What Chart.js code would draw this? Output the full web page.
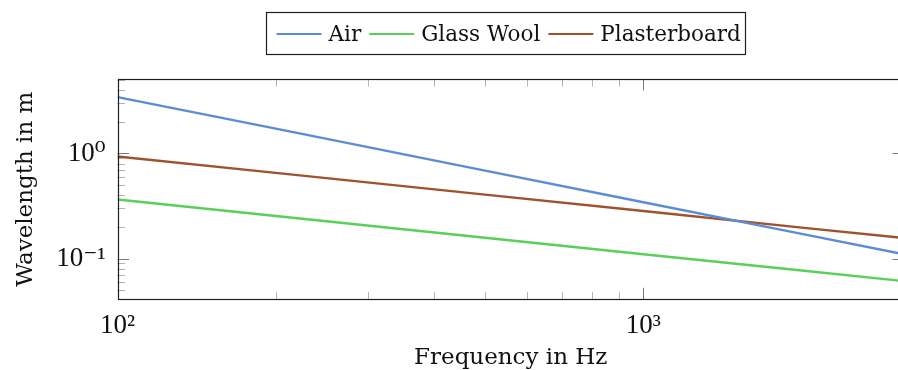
<!DOCTYPE html>
<html>
<head>
<meta charset="utf-8">
<script src="https://cdn.jsdelivr.net/npm/chart.js@4"></script>
<style>
  html, body { margin: 0; padding: 0; background: #fff; overflow: hidden; }
  #wrap { position: relative; width: 906px; height: 370px; }
</style>
</head>
<body>
<div id="wrap"><canvas id="myChart"></canvas></div>
<script>
// data (log-log)
var frequencies = [100, 200, 500, 1000, 2000, 3130];
var airWavelength = [3.43, 1.72, 0.686, 0.343, 0.172, 0.110];
var glassWoolWavelength = [0.365, 0.254, 0.158, 0.110, 0.077, 0.061];
var plasterboardWavelength = [0.936, 0.653, 0.406, 0.283, 0.197, 0.157];

var seriesNames = ['Air', 'Glass Wool', 'Plasterboard'];

// axis ticks
var xTickValues = [100, 1000];
var xTickLabels = ['10\u00B2', '10\u00B3'];
var xMinorTicks = [200, 300, 400, 500, 600, 700, 800, 900];
var yTickValues = [0.1, 1];
var yTickLabels = ['10\u207B\u00B9', '10\u2070'];
var yMinorTicks = [0.05, 0.06, 0.07, 0.08, 0.09, 0.2, 0.3, 0.4, 0.5, 0.6, 0.7, 0.8, 0.9, 2, 3, 4, 5];

var colors = ['#5b8cd7', '#58d158', '#a0522d'];
var serif = '"DejaVu Serif", serif';
var tickFont = '"Liberation Serif", "DejaVu Serif", serif';

function points(ys) {
    return frequencies.map(function (f, i) { return { x: f, y: ys[i] }; });
}

// frame, inner tick marks (pgfplots style) and the boxed legend
var framePlugin = {
    id: 'frame',
    afterDraw: function (chart) {
        var c = chart.ctx, a = chart.chartArea;
        var xs = chart.scales.x, ys = chart.scales.y;
        var major = 11.5, minor = 7.5;
        c.save();
        c.lineWidth = 1;

        // minor ticks
        c.strokeStyle = '#b4b4b4';
        c.beginPath();
        xMinorTicks.forEach(function (v) {
            var px = Math.round(xs.getPixelForValue(v)) + 0.5;
            c.moveTo(px, a.bottom); c.lineTo(px, a.bottom - minor);
            c.moveTo(px, a.top); c.lineTo(px, a.top + minor);
        });
        yMinorTicks.forEach(function (v) {
            var py = Math.round(ys.getPixelForValue(v)) + 0.5;
            c.moveTo(a.left, py); c.lineTo(a.left + minor, py);
        });
        c.stroke();

        // major ticks
        c.strokeStyle = '#7a7a7a';
        c.beginPath();
        xTickValues.forEach(function (v) {
            var px = Math.round(xs.getPixelForValue(v)) + 0.5;
            c.moveTo(px, a.bottom); c.lineTo(px, a.bottom - major);
            c.moveTo(px, a.top); c.lineTo(px, a.top + major);
        });
        yTickValues.forEach(function (v) {
            var py = Math.round(ys.getPixelForValue(v)) + 0.5;
            c.moveTo(a.left, py); c.lineTo(a.left + major, py);
            c.moveTo(a.right, py); c.lineTo(a.right - major, py);
        });
        c.stroke();

        // axis box
        c.strokeStyle = '#1e1e1e';
        c.lineWidth = 1.2;
        c.strokeRect(Math.round(a.left) + 0.5, Math.round(a.top) + 0.5,
            Math.round(a.right - a.left), Math.round(a.bottom - a.top));

        // legend
        c.font = '21.5px ' + serif;
        c.textBaseline = 'alphabetic';
        var lineLen = 45, gapText = 7, gapItem = 8, padL = 10, padR = 5;
        var ds = chart.data.datasets;
        var total = padL + padR;
        ds.forEach(function (d, i) {
            total += lineLen + gapText + c.measureText(d.label).width;
            if (i < ds.length - 1) total += gapItem;
        });
        var boxTop = 12.5, boxH = 42;
        var left = Math.round((a.left + a.right) / 2 - total / 2 - 5) + 0.5;
        c.strokeStyle = '#1e1e1e';
        c.lineWidth = 1.2;
        c.strokeRect(left, boxTop, Math.round(total), boxH);
        var x = left + padL;
        ds.forEach(function (d) {
            c.strokeStyle = d.borderColor;
            c.lineWidth = 1.8;
            c.beginPath();
            c.moveTo(x, 34); c.lineTo(x + lineLen, 34);
            c.stroke();
            x += lineLen + gapText;
            c.fillStyle = '#111';
            c.fillText(d.label, x, 40.5);
            x += c.measureText(d.label).width + gapItem;
        });
        c.restore();
    }
};

var ctx = document.getElementById('myChart').getContext('2d');
var myChart = new Chart(ctx, {
    type: 'line',
    data: {
        datasets: [
            { label: seriesNames[0], data: points(airWavelength), borderColor: colors[0] },
            { label: seriesNames[1], data: points(glassWoolWavelength), borderColor: colors[1] },
            { label: seriesNames[2], data: points(plasterboardWavelength), borderColor: colors[2] }
        ]
    },
    options: {
        responsive: true,
        maintainAspectRatio: false,
        animation: false,
        layout: { padding: { top: 79, right: 2, left: 0, bottom: 0 } },
        elements: {
            point: { radius: 0 },
            line: { borderWidth: 2.4, tension: 0, fill: false }
        },
        plugins: {
            legend: { display: false },
            tooltip: { enabled: false }
        },
        scales: {
            x: {
                type: 'logarithmic',
                min: 100,
                max: 3130,
                grid: { display: false },
                border: { display: false },
                afterBuildTicks: function (s) {
                    s.ticks = xTickValues.map(function (v) { return { value: v }; });
                },
                afterFit: function (s) { s.height = 70.7; },
                ticks: {
                    autoSkip: false,
                    maxRotation: 0,
                    padding: 2,
                    color: '#111',
                    font: { family: tickFont, size: 27 },
                    callback: function (v) {
                        var i = xTickValues.indexOf(v);
                        return i >= 0 ? xTickLabels[i] : '';
                    }
                },
                title: {
                    display: true,
                    text: 'Frequency in Hz',
                    color: '#111',
                    padding: 0,
                    font: { family: serif, size: 23, lineHeight: 1 }
                }
            },
            y: {
                type: 'logarithmic',
                min: 0.041,
                max: 5.1,
                grid: { display: false },
                border: { display: false },
                afterBuildTicks: function (s) {
                    s.ticks = yTickValues.map(function (v) { return { value: v }; });
                },
                afterFit: function (s) { s.width = 117.5; },
                ticks: {
                    autoSkip: false,
                    padding: 4,
                    color: '#111',
                    font: { family: tickFont, size: 27 },
                    callback: function (v) {
                        var i = yTickValues.indexOf(v);
                        return i >= 0 ? yTickLabels[i] : '';
                    }
                },
                title: {
                    display: true,
                    text: 'Wavelength in m',
                    color: '#111',
                    padding: { top: 14.5, bottom: 0 },
                    font: { family: serif, size: 23, lineHeight: 1 }
                }
            }
        }
    },
    plugins: [framePlugin]
});
</script>
</body>
</html>
